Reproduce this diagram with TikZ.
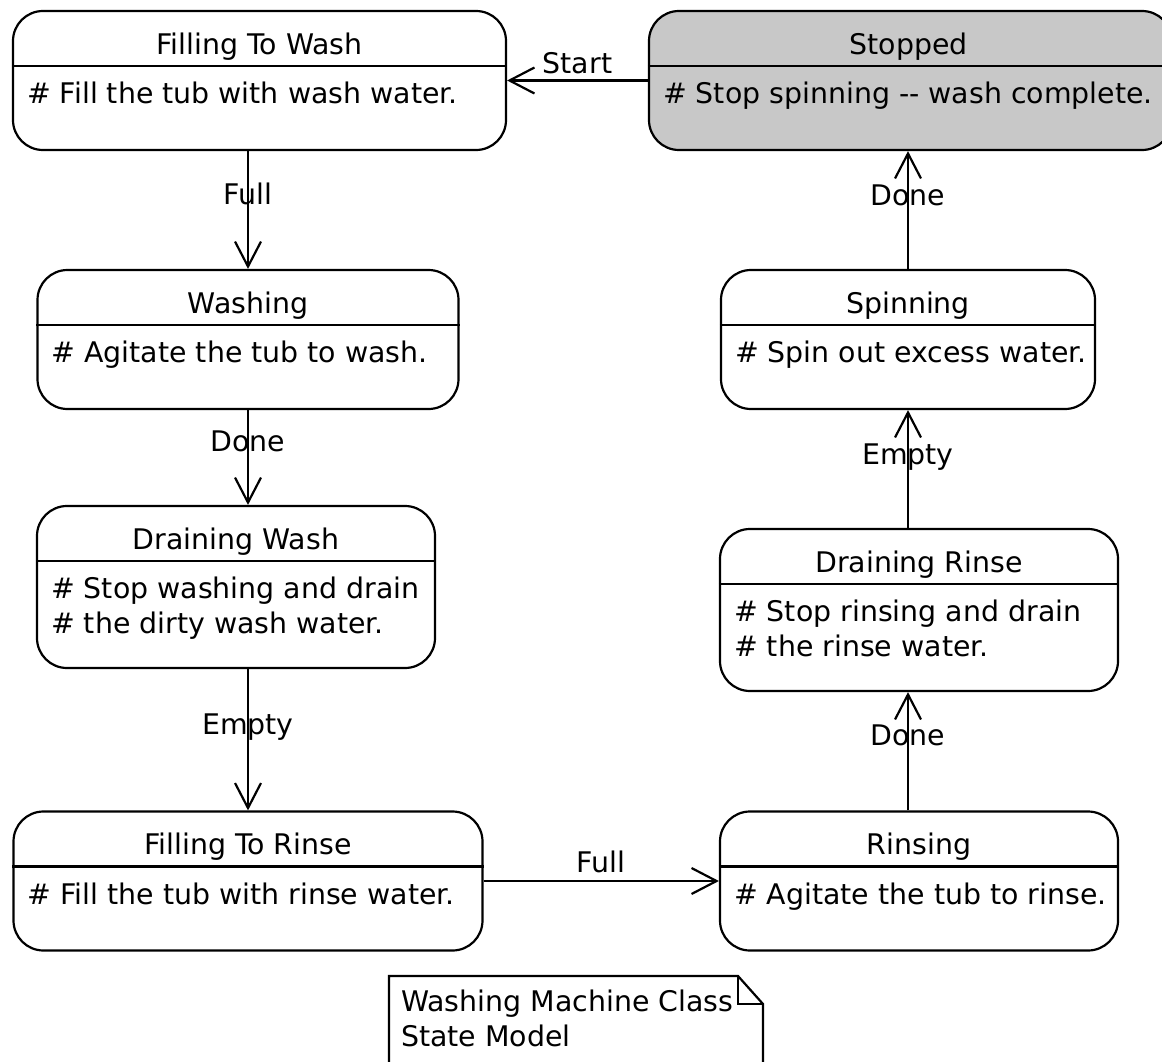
\documentclass[tikz,border=0pt]{standalone}
\usepackage{fontspec}
\setmainfont{DejaVu Sans}
\usepackage{tikz}
\usetikzlibrary{arrows.meta,positioning,calc}
\usepackage{xcolor}
\definecolor{stoppedgray}{RGB}{200,200,200}
\tikzset{
    state/.style={rectangle, draw, line width=2.2pt, rounded corners=30pt,
                  inner sep=0pt, minimum width=#1},
    ttl/.style={inner sep=0pt, font=\fontsize{28.4}{35}\selectfont,
                text height=21pt, text depth=6pt},
    body/.style={inner sep=0pt, align=left, anchor=north west,
                 font=\fontsize{28.4}{35}\selectfont},
    trans/.style={-{Straight Barb[length=25pt, width=26pt, line width=2.2pt]},
                  line width=2.2pt},
    lbl/.style={inner sep=0pt, font=\fontsize{28.4}{35}\selectfont,
                text height=21pt, text depth=0pt},
}

\begin{document}
\begin{tikzpicture}[x=1pt, y=-1pt]
    \useasboundingbox (0,0) rectangle (1162,1062);

    % states
    \node[state=493pt, minimum height=139pt] (fw) at (259.5,80.5) {};
    \node[state=523pt, minimum height=139pt, fill=stoppedgray] (st) at (910.5,80.5) {};
    \node[state=421pt, minimum height=139pt] (wa) at (248,339.5) {};
    \node[state=398pt, minimum height=162pt] (dw) at (236,587) {};
    \node[state=469pt, minimum height=139pt] (fr) at (248,881) {};
    \node[state=374pt, minimum height=139pt] (sp) at (908,339.5) {};
    \node[state=398pt, minimum height=162pt] (dr) at (919,610) {};
    \node[state=398pt, minimum height=139pt] (ri) at (919,881) {};

    \foreach \s in {fw,st,wa,dw,fr,sp,dr,ri}
        \draw[line width=2.2pt] ($(\s.north west)+(0,56)$) -- ($(\s.north east)+(0,56)$);

    % titles
    \node[ttl, below=23pt of fw.north] (fwt) {Filling To Wash};
    \node[ttl, below=23pt of st.north, xshift=-2pt] (stt) {Stopped};
    \node[ttl, below=23pt of wa.north] (wat) {Washing};
    \node[ttl, below=23pt of dw.north] (dwt) {Draining Wash};
    \node[ttl, below=23pt of fr.north] (frt) {Filling To Rinse};
    \node[ttl, below=23pt of sp.north] (spt) {Spinning};
    \node[ttl, below=23pt of dr.north] (drt) {Draining Rinse};
    \node[ttl, below=23pt of ri.north] (rit) {Rinsing};

    % activities
    \node[body, below right=72pt and 15pt of fw.north west] (fwb) {\# Fill the tub with wash water.};
    \node[body, below right=72pt and 15pt of st.north west] (stb) {\# Stop spinning -{}- wash complete.};
    \node[body, below right=72pt and 15pt of wa.north west] (wab) {\# Agitate the tub to wash.};
    \node[body, below right=72pt and 15pt of dw.north west] (dwb) {\# Stop washing and drain\\\# the dirty wash water.};
    \node[body, below right=72pt and 15pt of fr.north west] (frb) {\# Fill the tub with rinse water.};
    \node[body, below right=72pt and 15pt of sp.north west] (spb) {\# Spin out excess water.};
    \node[body, below right=72pt and 15pt of dr.north west] (drb) {\# Stop rinsing and drain\\\# the rinse water.};
    \node[body, below right=72pt and 15pt of ri.north west] (rib) {\# Agitate the tub to rinse.};

    % transitions
    \draw[trans] (st) -- (fw) node[lbl, midway, above=6pt] {Start};
    \draw[trans] (fw.south -| wa.north) -- (wa.north) node[lbl, pos=0.36] {Full};
    \draw[trans] (wa.south) -- (wa.south |- dw.north) node[lbl, pos=0.33] {Done};
    \draw[trans] (dw.south -| fr.north) -- (fr.north) node[lbl, pos=0.39] {Empty};
    \draw[trans] (fr) -- (ri) node[lbl, midway, above=7pt] {Full};
    \draw[trans] (ri.north -| sp.south) -- (dr.south -| sp.south) node[lbl, pos=0.64] {Done};
    \draw[trans] (dr.north -| sp.south) -- (sp.south) node[lbl, pos=0.63] {Empty};
    \draw[trans] (sp.north) -- (sp.north |- st.south) node[lbl, pos=0.63] {Done};

    % note
    \draw[line width=2.2pt] (389,1075) |- (738,976) -- (763,1004) -- (763,1075);
    \draw[line width=2.2pt] (738,976) |- (763,1004);
    \node[body, anchor=north west] (note) at (401,990) {Washing Machine Class\\State Model};
\end{tikzpicture}
\end{document}
